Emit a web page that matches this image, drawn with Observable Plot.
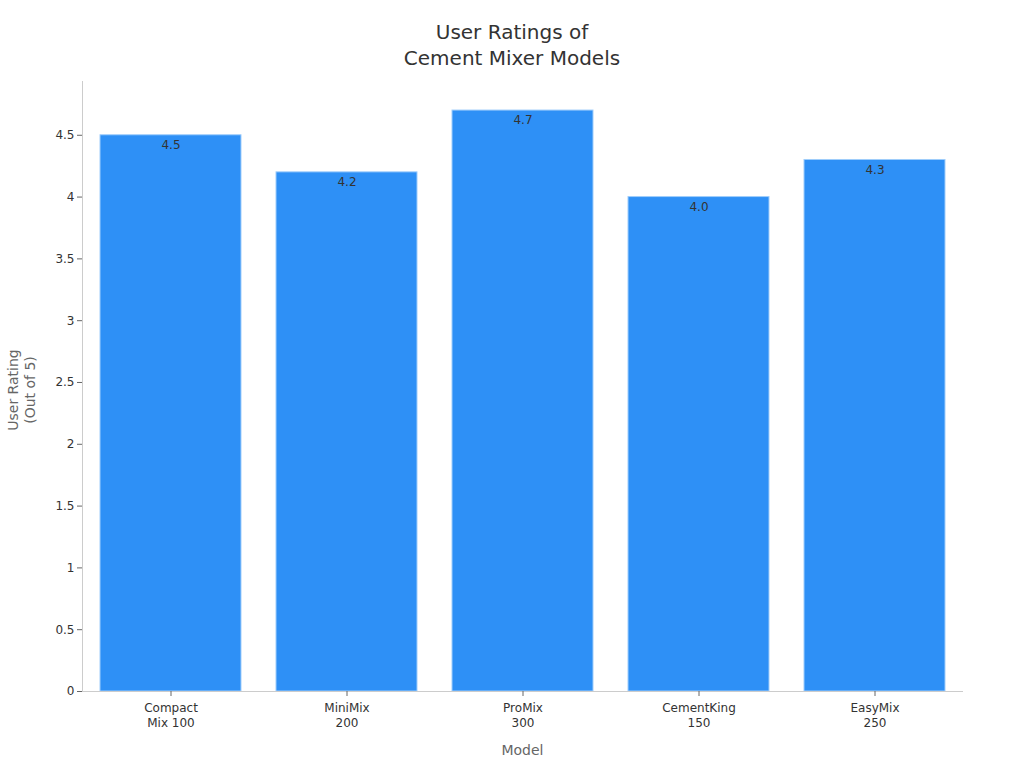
<!DOCTYPE html>
<html>
<head>
<meta charset="utf-8">
<script src="https://cdn.jsdelivr.net/npm/d3@7"></script>
<script src="https://cdn.jsdelivr.net/npm/@observablehq/plot@0.6"></script>
<style>
  html, body { margin: 0; padding: 0; background: #fff; overflow: hidden; }
  body { width: 1024px; height: 768px; font-family: "DejaVu Sans", sans-serif; }
  #title { height: 72px; box-sizing: border-box; padding-top: 19px; text-align: center;
           font-size: 20px; line-height: 26px; color: #333; }
  #chart { position: relative; }
</style>
</head>
<body>
<div id="title">User Ratings of<br>Cement Mixer Models</div>
<div id="chart"></div>
<script>
const models = ["Compact Mix 100", "MiniMix 200", "ProMix 300", "CementKing 150", "EasyMix 250"];
const ratings = [4.5, 4.2, 4.7, 4.0, 4.3];
const yTicks = [0, 0.5, 1, 1.5, 2, 2.5, 3, 3.5, 4, 4.5];
const xTitle = "Model";
const yTitle = ["User Rating", "(Out of 5)"];

const data = models.map((m, i) => ({model: m, rating: ratings[i]}));
const W = 1024, H = 696;
const mL = 82, mR = 61, mT = 9, mB = 77;
const yMax = d3.max(ratings) * 1.05;

const plot = Plot.plot({
  width: W, height: H,
  marginLeft: mL, marginRight: mR, marginTop: mT, marginBottom: mB,
  style: {fontFamily: "DejaVu Sans, sans-serif", fontSize: "12px", color: "#333", background: "#fff"},
  x: {domain: models, paddingInner: 0.2, paddingOuter: 0.1, label: null},
  y: {domain: [0, yMax], label: null},
  marks: [
    Plot.barY(data, {x: "model", y: "rating", fill: "#2e90f6", stroke: "#9fcdfb", strokeWidth: 1}),
    Plot.text(data, {x: "model", y: "rating", text: d => d.rating.toFixed(1), dy: 10, fill: "#333", fontSize: 12}),
    Plot.ruleY([0], {stroke: "#ccc"}),
    Plot.axisY({ticks: yTicks, tickSize: 5, stroke: "#666", tickPadding: 3, fill: "#333", fontSize: 12, label: null, tickFormat: d => String(d)}),
    Plot.axisX({tickSize: 5, stroke: "#666", tickPadding: 5, fill: "#333", fontSize: 12, lineHeight: 1.25, label: null,
      tickFormat: d => d.replace(" ", "\n")})
  ]
});
document.getElementById("chart").appendChild(plot);

const svg = d3.select(plot);
svg.append("line")
  .attr("x1", mL + 0.5).attr("x2", mL + 0.5)
  .attr("y1", mT).attr("y2", H - mB)
  .attr("stroke", "#ccc");
svg.append("text")
  .attr("x", mL + (W - mL - mR) / 2).attr("y", 683)
  .attr("text-anchor", "middle").attr("fill", "#666")
  .style("font-size", "14px").text(xTitle);
const yl = svg.append("text")
  .attr("transform", `translate(18, ${mT + (H - mT - mB) / 2 + 4}) rotate(-90)`)
  .attr("text-anchor", "middle").attr("fill", "#666")
  .style("font-size", "14px");
yTitle.forEach((t, i) => yl.append("tspan").attr("x", 0).attr("dy", i === 0 ? 0 : "1.2em").text(t));
</script>
</body>
</html>
